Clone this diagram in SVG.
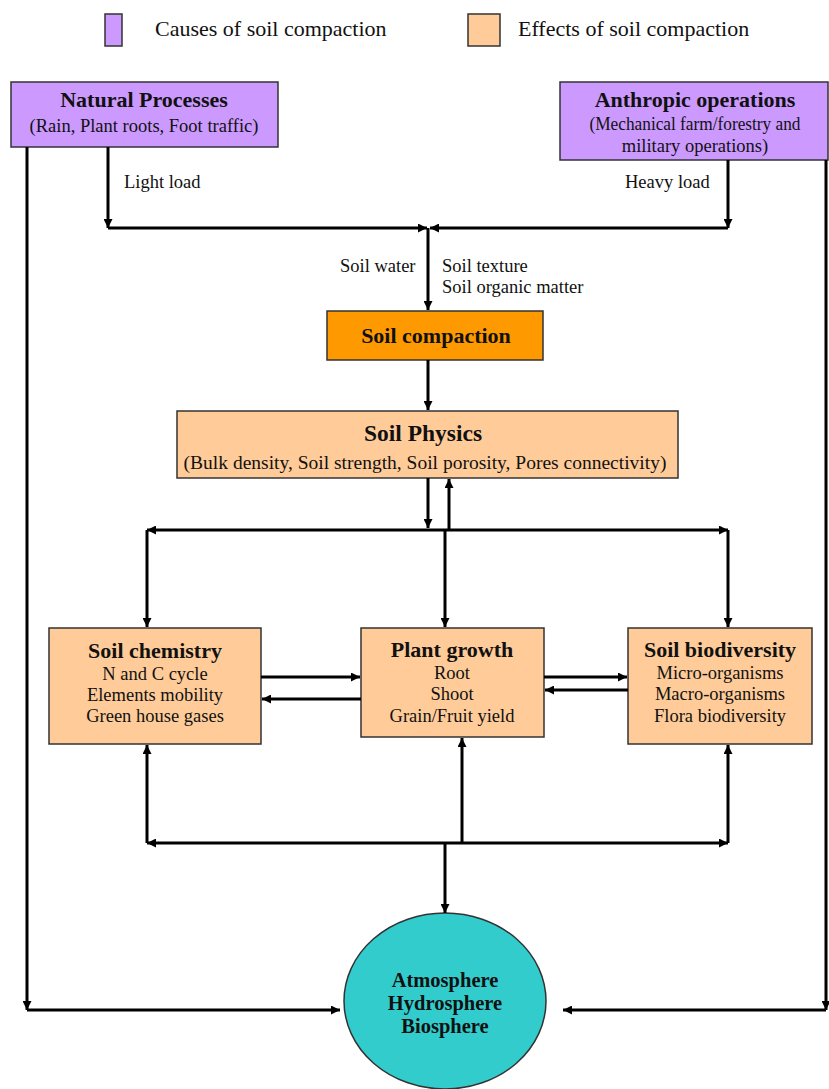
<svg xmlns="http://www.w3.org/2000/svg" width="829" height="1089" viewBox="0 0 829 1089">
<defs>
<marker id="ah" viewBox="0 0 10 10" refX="10" refY="5" markerWidth="10" markerHeight="9" markerUnits="userSpaceOnUse" orient="auto-start-reverse"><path d="M0,0 L10,5 L0,10 z" fill="#000"/></marker>
<style>
text{font-family:"Liberation Serif","Times New Roman",serif;fill:#111}
.t{font-weight:bold;font-size:22px;text-anchor:middle}
.b{font-size:18.5px;text-anchor:middle}
.l{font-size:18.5px}
.lg{font-size:22px}
.cause{fill:#CC99FF;stroke:#333;stroke-width:1.5}
.eff{fill:#FFCC99;stroke:#333;stroke-width:1.5}
.c path{fill:none;stroke:#000;stroke-width:3}
.c path.a{marker-end:url(#ah)}
.c path.aa{marker-start:url(#ah);marker-end:url(#ah)}
</style>
</defs>
<rect width="829" height="1089" fill="#fff"/>
<g id="legend">
<rect x="105" y="14" width="17" height="32" class="cause"/>
<text x="155" y="36" class="lg">Causes of soil compaction</text>
<rect x="468" y="14" width="32" height="32" class="eff"/>
<text x="518" y="36" class="lg">Effects of soil compaction</text>
</g>
<g id="natural">
<rect x="11" y="82" width="267" height="65" class="cause"/>
<text x="144" y="107" class="t">Natural Processes</text>
<text x="144" y="132" class="b">(Rain, Plant roots, Foot traffic)</text>
</g>
<g id="anthropic">
<rect x="560" y="82" width="268" height="78" class="cause"/>
<text x="695" y="107" class="t">Anthropic operations</text>
<text x="695" y="130" class="b" textLength="211" lengthAdjust="spacingAndGlyphs">(Mechanical farm/forestry and</text>
<text x="695" y="152" class="b">military operations)</text>
</g>
<g id="compaction">
<rect x="327" y="311" width="216" height="49" fill="#FF9900" stroke="#333" stroke-width="1.5"/>
<text x="436" y="343" class="t">Soil compaction</text>
</g>
<g id="physics">
<rect x="177" y="411" width="501" height="67" class="eff"/>
<text x="423" y="441" class="t" style="font-size:23.5px">Soil Physics</text>
<text x="425" y="469" class="b" style="font-size:19.5px">(Bulk density, Soil strength, Soil porosity, Pores connectivity)</text>
</g>
<g id="chemistry">
<rect x="49" y="628" width="212" height="116" class="eff"/>
<text x="155" y="658" class="t">Soil chemistry</text>
<text x="155" y="680" class="b">N and C cycle</text>
<text x="155" y="701" class="b">Elements mobility</text>
<text x="155" y="722" class="b">Green house gases</text>
</g>
<g id="plant">
<rect x="361" y="628" width="183" height="109" class="eff"/>
<text x="452" y="657" class="t">Plant growth</text>
<text x="452" y="679" class="b">Root</text>
<text x="452" y="700" class="b">Shoot</text>
<text x="452" y="722" class="b">Grain/Fruit yield</text>
</g>
<g id="biodiversity">
<rect x="628" y="628" width="184" height="116" class="eff"/>
<text x="720" y="657" class="t">Soil biodiversity</text>
<text x="720" y="679" class="b">Micro-organisms</text>
<text x="720" y="700" class="b">Macro-organisms</text>
<text x="720" y="722" class="b">Flora biodiversity</text>
</g>
<g id="spheres">
<ellipse cx="445" cy="1001" rx="101" ry="88" fill="#33CCCC" stroke="#333" stroke-width="1.5"/>
<text x="445" y="987" class="t" style="font-size:20.5px">Atmosphere</text>
<text x="445" y="1010" class="t" style="font-size:20.5px">Hydrosphere</text>
<text x="445" y="1033" class="t" style="font-size:20.5px">Biosphere</text>
</g>
<g id="connectors" class="c">
<path class="a" d="M27,147 V1010"/>
<path class="a" d="M27,1010 H340"/>
<path class="a" d="M826,160 V1010"/>
<path class="a" d="M826,1010 H563"/>
<path class="a" d="M108,147 V228"/>
<path class="a" d="M108,228 H427"/>
<path class="a" d="M728,160 V228"/>
<path class="a" d="M728,228 H430"/>
<path class="a" d="M428,228 V310"/>
<path class="a" d="M428,360 V410"/>
<path class="a" d="M428,478 V528"/>
<path class="a" d="M449,530 V479"/>
<path class="aa" d="M147,530 H728"/>
<path class="a" d="M147,530 V627"/>
<path class="a" d="M445,530 V627"/>
<path class="a" d="M728,530 V627"/>
<path class="a" d="M261,677 H360"/>
<path class="a" d="M361,699 H262"/>
<path class="a" d="M544,677 H627"/>
<path class="a" d="M628,690 H545"/>
<path class="a" d="M147,843 V745"/>
<path class="a" d="M462,843 V738"/>
<path class="a" d="M728,843 V745"/>
<path class="aa" d="M147,843 H728"/>
<path class="a" d="M445,843 V913"/>
</g>
<g id="labels">
<text x="124" y="188" class="l">Light load</text>
<text x="625" y="188" class="l">Heavy load</text>
<text x="340" y="272" class="l">Soil water</text>
<text x="442" y="272" class="l">Soil texture</text>
<text x="442" y="293" class="l">Soil organic matter</text>
</g>
</svg>
